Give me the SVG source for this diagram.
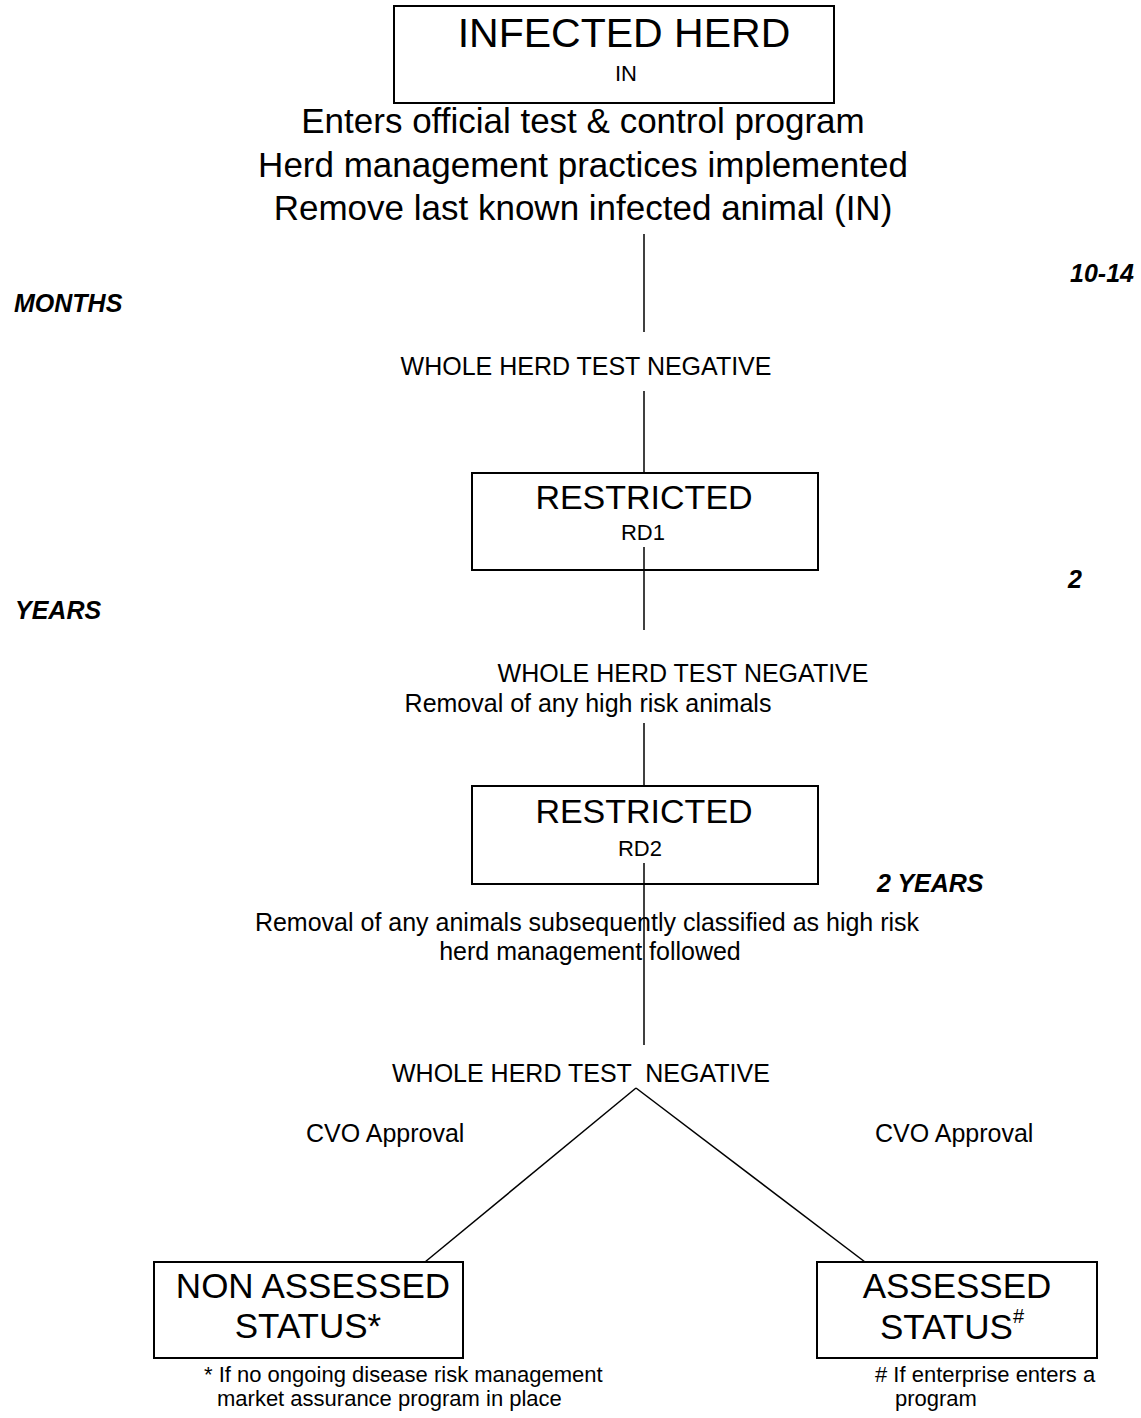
<svg xmlns="http://www.w3.org/2000/svg" width="1141" height="1418" viewBox="0 0 1141 1418">
<style>
text{font-family:"Liberation Sans",Arial,sans-serif;fill:#000}
.box{fill:#fff;stroke:#000;stroke-width:2}
.ln{stroke:#000;stroke-width:1.5;fill:none}
.side{font-weight:bold;font-style:italic;font-size:25px}
.t25{font-size:25px}
.big{font-size:35px}
.mid{font-size:34px}
.sub{font-size:22px}
.note{font-size:22px}
.c{text-anchor:middle}
</style>
<rect width="1141" height="1418" fill="#fff"/>

<g id="node-in">
<rect class="box" x="394" y="6" width="440" height="97"/>
<text class="c" x="624" y="47" font-size="41">INFECTED HERD</text>
<text class="c sub" x="626" y="81">IN</text>
</g>
<g id="in-actions">
<text class="c big" x="583" y="133">Enters official test &amp; control program</text>
<text class="c big" x="583" y="177">Herd management practices implemented</text>
<text class="c big" x="583" y="220">Remove last known infected animal (IN)</text>
</g>

<g id="label-test1"><text class="c t25" x="586" y="375">WHOLE HERD TEST NEGATIVE</text></g>

<g id="node-rd1">
<rect class="box" x="472" y="473" width="346" height="97"/>
<text class="c mid" x="644" y="509">RESTRICTED</text>
<text class="c sub" x="643" y="540">RD1</text>
</g>

<g id="label-test2">
<text class="c t25" x="683" y="682">WHOLE HERD TEST NEGATIVE</text>
<text class="c t25" x="588" y="712">Removal of any high risk animals</text>
</g>

<g id="node-rd2">
<rect class="box" x="472" y="786" width="346" height="98"/>
<text class="c mid" x="644" y="823">RESTRICTED</text>
<text class="c sub" x="640" y="856">RD2</text>
</g>

<g id="label-rd2-notes">
<text class="c t25" x="587" y="931">Removal of any animals subsequently classified as high risk</text>
<text class="c t25" x="590" y="960">herd management followed</text>
</g>

<g id="label-test3">
<text class="t25" x="392" y="1082" xml:space="preserve">WHOLE HERD TEST  NEGATIVE</text>
<text class="t25" x="306" y="1142">CVO Approval</text>
<text class="t25" x="875" y="1142">CVO Approval</text>
</g>

<g id="node-non-assessed">
<rect class="box" x="154" y="1262" width="309" height="96"/>
<text class="c big" x="313" y="1298">NON ASSESSED</text>
<text class="c big" x="308" y="1338">STATUS*</text>
</g>
<g id="note-non-assessed">
<text class="note" x="204" y="1382">* If no ongoing disease risk management</text>
<text class="note" x="217" y="1406">market assurance program in place</text>
</g>

<g id="node-assessed">
<rect class="box" x="817" y="1262" width="280" height="96"/>
<text class="c big" x="957" y="1298">ASSESSED</text>
<text class="big" x="880" y="1339">STATUS<tspan font-size="20" dy="-16">#</tspan></text>
</g>
<g id="note-assessed">
<text class="note" x="875" y="1382"># If enterprise enters a</text>
<text class="note" x="895" y="1406">program</text>
</g>

<g id="durations">
<text class="side" x="1070" y="282">10-14</text>
<text class="side" x="14" y="312">MONTHS</text>
<text class="side" x="1068" y="588">2</text>
<text class="side" x="15" y="619">YEARS</text>
<text class="side" x="877" y="892">2 YEARS</text>
</g>

<g id="connectors">
<line class="ln" x1="644" y1="234" x2="644" y2="332"/>
<line class="ln" x1="644" y1="391" x2="644" y2="473"/>
<line class="ln" x1="644" y1="547" x2="644" y2="630"/>
<line class="ln" x1="644" y1="723" x2="644" y2="786"/>
<line class="ln" x1="644" y1="863" x2="644" y2="1045"/>
<line class="ln" x1="636" y1="1088" x2="425" y2="1262"/>
<line class="ln" x1="636" y1="1088" x2="865" y2="1262"/>
</g>
</svg>
